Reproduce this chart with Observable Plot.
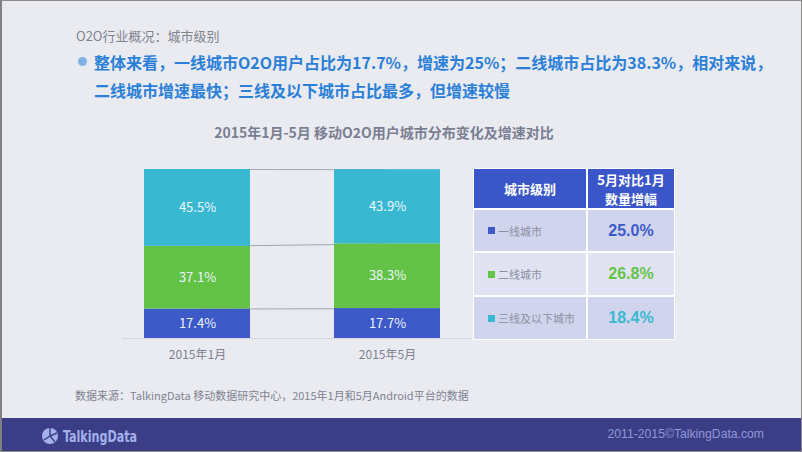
<!DOCTYPE html>
<html>
<head>
<meta charset="utf-8">
<script src="https://cdn.jsdelivr.net/npm/d3@7"></script>
<script src="https://cdn.jsdelivr.net/npm/@observablehq/plot@0.6"></script>
<style>
  html, body { margin:0; padding:0; }
  body { width:802px; height:452px; overflow:hidden; background:#eaebf0; font-family:"Noto Sans CJK SC","Noto Sans",sans-serif; }
  #slide { position:relative; width:802px; height:452px; box-sizing:border-box; border:1px solid #8a8a8a; border-left:2px solid #808080; background:#eaebf0; overflow:hidden; }
  .abs { position:absolute; white-space:nowrap; }
  #section { left:74px; top:25px; font-size:13px; color:#80838e; }
  #bullet { left:76px; top:56px; width:9px; height:9px; border-radius:50%; background:#7fb2e2; }
  .lead { left:92px; font-size:16px; font-weight:bold; color:#2a80d8; line-height:20px; }
  #lead1 { top:51px; }
  #lead2 { top:79px; }
  #ctitle { left:132px; width:500px; text-align:center; top:121px; font-size:14px; font-weight:bold; color:#7a7e92; }
  #chart { left:120px; top:158px; }
  #tbl { left:471px; top:167px; padding:1px; background:#ffffff; display:grid;
         grid-template-columns:112px 86px; grid-template-rows:39px 41px 42px 42px; gap:2px; }
  .cell { display:flex; align-items:center; }
  .th { background:#3b56c8; color:#fff; font-size:13px; font-weight:bold; justify-content:center; text-align:center; flex-direction:column; }
  .th span { display:block; line-height:19px; height:19px; }
  .name { font-size:11px; color:#8c90a3; padding-left:14px; }
  .val { font-family:"Liberation Sans",Arial,sans-serif; font-size:16px; font-weight:bold; justify-content:center; }
  .sq { display:inline-block; width:7px; height:7px; margin-right:3px; }
  #source { left:73px; top:386px; font-size:11px; color:#7f8290; }
  #footer { left:0; top:417px; width:802px; height:35px; background:#3b3e86; }
  #logo { left:38px; top:424px; }
  #copy { right:37px; top:426px; font-family:"Liberation Sans",Arial,sans-serif; font-size:12.2px; color:#8f98d8; }
</style>
</head>
<body>
<div id="slide">
  <div class="abs" id="section">O2O行业概况：城市级别</div>
  <div class="abs" id="bullet"></div>
  <div class="abs lead" id="lead1">整体来看，一线城市O2O用户占比为17.7%，增速为25%；二线城市占比为38.3%，相对来说，</div>
  <div class="abs lead" id="lead2">二线城市增速最快；三线及以下城市占比最多，但增速较慢</div>
  <div class="abs" id="ctitle">2015年1月-5月 移动O2O用户城市分布变化及增速对比</div>
  <div class="abs" id="chart"></div>
  <div class="abs" id="tbl"></div>
  <div class="abs" id="source">数据来源：TalkingData 移动数据研究中心，2015年1月和5月Android平台的数据</div>
  <div class="abs" id="footer"></div>
  <div class="abs" id="logo">
    <svg width="130" height="22" viewBox="0 0 130 22">
      <circle cx="10" cy="11" r="8" fill="#a3b1ea"/>
      <path d="M10 11 L10 3 M10 11 L17 8 M10 11 L15 17 M10 11 L4 15" stroke="#3b3e86" stroke-width="1.4"/>
      <text transform="translate(23,17) scale(0.8,1)" font-family="Liberation Sans Narrow, DejaVu Sans Condensed, sans-serif" font-weight="bold" font-size="15.5" fill="#a3b1ea">TalkingData</text>
    </svg>
  </div>
  <div class="abs" id="copy">2011-2015©TalkingData.com</div>
</div>
<script>
// ---- data ----
const months = ["2015年1月", "2015年5月"];
const tiers = ["一线城市", "二线城市", "三线及以下城市"];
const shareJan = [17.4, 37.1, 45.5];
const shareMay = [17.7, 38.3, 43.9];
const growth = [25.0, 26.8, 18.4];
const tierColors = ["#3d5ac8", "#63c347", "#39b9d1"];
const headers = [["城市级别"], ["5月对比1月", "数量增幅"]];

// ---- chart ----
const rows = [];
months.forEach((m, mi) => {
  const vals = mi === 0 ? shareJan : shareMay;
  tiers.forEach((t, ti) => rows.push({month: m, tier: t, value: vals[ti]}));
});
const cumJan = Array.from(d3.cumsum(shareJan));
const cumMay = Array.from(d3.cumsum(shareMay));
const links = tiers.map((t, i) => ({a: cumJan[i], b: cumMay[i]}));

const chart = Plot.plot({
  width: 360,
  height: 212,
  marginTop: 10,
  marginBottom: 33,
  marginLeft: 0,
  marginRight: 10,
  style: {background: "transparent", fontFamily: "Noto Sans CJK SC, sans-serif", color: "#7d8090", overflow: "visible"},
  x: {domain: months, paddingInner: 0.444, paddingOuter: 0.14, align: 0.41},
  y: {domain: [0, 100], axis: null},
  color: {domain: tiers, range: tierColors},
  marks: [
    Plot.ruleY([0], {stroke: "#d6d7de", strokeWidth: 1}),
    Plot.link(links, {x1: () => months[0], x2: () => months[1], y1: "a", y2: "b", stroke: "#a4a6b0", strokeWidth: 1}),
    Plot.barY(rows, Plot.stackY({x: "month", y: "value", z: "tier", fill: "tier", order: tiers})),
    Plot.text(rows, Plot.stackY({x: "month", y: "value", z: "tier", order: tiers,
      text: d => d.value.toFixed(1) + "%", fill: "#eef4ff", fontSize: 13})),
    Plot.axisX({tickSize: 0, tickPadding: 12, fontSize: 12, label: null, color: "#7d8090"})
  ]
});
document.getElementById("chart").appendChild(chart);

// ---- table ----
const rowBg = ["#d1d4ed", "#e1e3f2", "#d1d4ed"];
let html = headers.map(h => `<div class="cell th">${h.map(s => `<span>${s}</span>`).join("")}</div>`).join("");
tiers.forEach((t, i) => {
  html += `<div class="cell name" style="background:${rowBg[i]}"><span class="sq" style="background:${tierColors[i]}"></span>${t}</div>` +
    `<div class="cell val" style="background:${rowBg[i]};color:${tierColors[i]}">${growth[i].toFixed(1)}%</div>`;
});
document.getElementById("tbl").innerHTML = html;
</script>
</body>
</html>
